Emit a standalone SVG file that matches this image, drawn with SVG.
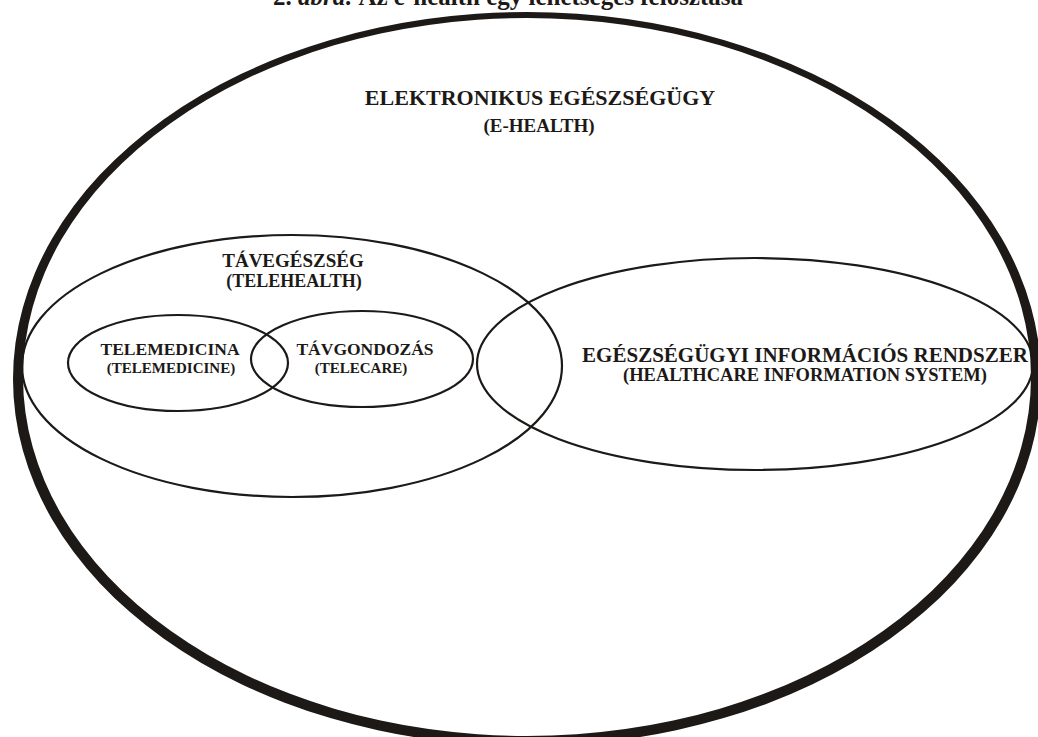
<svg xmlns="http://www.w3.org/2000/svg" width="1038" height="737" viewBox="0 0 1038 737">
<style>
.t{font-family:"Liberation Serif","Times New Roman",serif;font-weight:bold;fill:#1c1917;text-anchor:middle}
.e{fill:none;stroke:#1c1917;stroke-width:2.2}
</style>
<rect width="1038" height="737" fill="#fff"/>
<text class="t" x="508" y="5" font-size="25">2. <tspan font-style="italic">ábra:</tspan> Az e-health egy lehetséges felosztása</text>
<g id="ehealth">
<path fill="#1c1917" fill-rule="evenodd" d="M13,379 a514,367 0 1,0 1028,0 a514,367 0 1,0 -1028,0 Z M23,377 a504,359 0 1,0 1008,0 a504,359 0 1,0 -1008,0 Z"/>
<text class="t" x="540" y="105" font-size="22">ELEKTRONIKUS EGÉSZSÉGÜGY</text>
<text class="t" x="539" y="132" font-size="19">(E-HEALTH)</text>
</g>
<g id="telehealth">
<ellipse class="e" cx="292" cy="366" rx="270" ry="131"/>
<text class="t" x="293" y="267" font-size="19">TÁVEGÉSZSÉG</text>
<text class="t" x="294" y="287" font-size="18">(TELEHEALTH)</text>
</g>
<g id="his">
<ellipse class="e" cx="755" cy="364" rx="278" ry="106"/>
<text class="t" x="805" y="362" font-size="21">EGÉSZSÉGÜGYI INFORMÁCIÓS RENDSZER</text>
<text class="t" x="805" y="381" font-size="18.5">(HEALTHCARE INFORMATION SYSTEM)</text>
</g>
<g id="telemedicine">
<ellipse class="e" cx="178" cy="363" rx="110" ry="48"/>
<text class="t" x="170" y="355" font-size="17.5">TELEMEDICINA</text>
<text class="t" x="171" y="373" font-size="15">(TELEMEDICINE)</text>
</g>
<g id="telecare">
<ellipse class="e" cx="362" cy="359" rx="111" ry="48"/>
<text class="t" x="365" y="355" font-size="17.5">TÁVGONDOZÁS</text>
<text class="t" x="361" y="373" font-size="15">(TELECARE)</text>
</g>
<g id="connectors"/>
</svg>
